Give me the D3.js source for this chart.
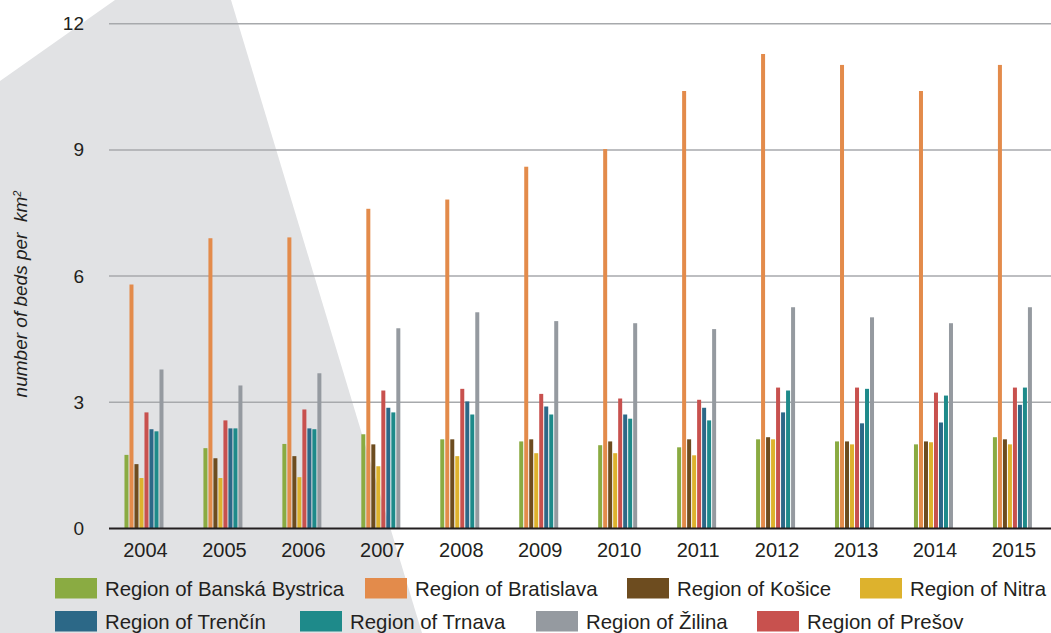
<!DOCTYPE html>
<html>
<head>
<meta charset="utf-8">
<script src="https://cdn.jsdelivr.net/npm/d3@7/dist/d3.min.js"></script>
<style>
  html, body { margin: 0; padding: 0; background: #ffffff; }
  svg { display: block; font-family: "Liberation Sans", Arial, Helvetica, sans-serif; }
</style>
</head>
<body>
<svg id="chart" width="1051" height="633"></svg>
<script>
// Tourist accommodation density by region, beds per km²
const years = ["2004", "2005", "2006", "2007", "2008", "2009", "2010", "2011", "2012", "2013", "2014", "2015"];
const yTicks = [0, 3, 6, 9, 12];

const banskaBystrica = [1.75, 1.91, 2.01, 2.24, 2.12, 2.07, 1.98, 1.93, 2.12, 2.07, 2.00, 2.17];
const bratislava     = [5.80, 6.90, 6.92, 7.60, 7.82, 8.60, 9.02, 10.40, 11.28, 11.02, 10.40, 11.02];
const kosice         = [1.53, 1.67, 1.72, 2.00, 2.12, 2.12, 2.07, 2.12, 2.17, 2.07, 2.07, 2.12];
const nitra          = [1.20, 1.20, 1.22, 1.48, 1.72, 1.79, 1.79, 1.74, 2.12, 2.00, 2.05, 2.00];
const presov         = [2.76, 2.57, 2.83, 3.28, 3.32, 3.20, 3.09, 3.06, 3.35, 3.35, 3.23, 3.35];
const trencin        = [2.36, 2.38, 2.38, 2.87, 3.02, 2.90, 2.71, 2.87, 2.76, 2.50, 2.52, 2.94];
const trnava         = [2.31, 2.38, 2.36, 2.76, 2.71, 2.71, 2.61, 2.57, 3.28, 3.32, 3.16, 3.35];
const zilina         = [3.78, 3.40, 3.69, 4.76, 5.14, 4.93, 4.88, 4.74, 5.26, 5.02, 4.88, 5.26];

// Bar order inside each year group
const series = [
  { name: "Region of Banská Bystrica", values: banskaBystrica, color: "#8aab42" },
  { name: "Region of Bratislava",      values: bratislava,     color: "#e38b4b" },
  { name: "Region of Košice",          values: kosice,         color: "#6d4c1f" },
  { name: "Region of Nitra",           values: nitra,          color: "#ddb22d" },
  { name: "Region of Prešov",          values: presov,         color: "#c8514e" },
  { name: "Region of Trenčín",         values: trencin,        color: "#2c6887" },
  { name: "Region of Trnava",          values: trnava,         color: "#1e8a8a" },
  { name: "Region of Žilina",          values: zilina,         color: "#959aa0" }
];

// Legend order (two rows of four)
const legendOrder = [
  "Region of Banská Bystrica", "Region of Bratislava", "Region of Košice", "Region of Nitra",
  "Region of Trenčín", "Region of Trnava", "Region of Žilina", "Region of Prešov"
];
const legendSlots = [
  [55, 578], [365, 578], [627, 578], [860, 578],
  [55, 611], [300, 611], [536, 611], [757, 611]
];

const svg = d3.select("#chart");
const W = 1051, H = 633;
const textColor = "#231f20";

svg.append("rect").attr("width", W).attr("height", H).attr("fill", "#ffffff");

// Decorative grey backdrop shape
svg.append("polygon")
  .attr("points", [[0, 81], [115, 0], [231, 0], [422, 633], [0, 633]].map(p => p.join(",")).join(" "))
  .attr("fill", "#e1e2e4");

const plotLeft = 109, plotRight = 1051;

const x0 = d3.scaleBand().domain(years).range([105, 1052.4]).padding(0);
const x1 = d3.scaleBand().domain(series.map(s => s.name)).range([0, 40]).padding(0);
const y = d3.scaleLinear().domain([0, 12]).range([528.5, 23.7]);

// Horizontal gridlines
svg.append("g")
  .selectAll("line")
  .data(yTicks.filter(t => t > 0))
  .join("line")
  .attr("x1", plotLeft).attr("x2", plotRight)
  .attr("y1", d => y(d)).attr("y2", d => y(d))
  .attr("stroke", "#a7a9ac")
  .attr("stroke-width", 1.5);

// Y axis labels
const yAxis = svg.append("g")
  .attr("transform", `translate(${plotLeft},0)`)
  .call(d3.axisLeft(y).tickValues(yTicks).tickSize(0).tickPadding(25).tickFormat(d3.format("d")));
yAxis.select(".domain").remove();
yAxis.selectAll("text")
  .attr("fill", textColor)
  .style("font-size", "19px");

// Bars
const groups = svg.append("g")
  .selectAll("g")
  .data(years)
  .join("g")
  .attr("transform", d => `translate(${x0(d) + x0.bandwidth() / 2 - 20},0)`);

groups.selectAll("rect")
  .data((yr, i) => series.map(s => ({ name: s.name, color: s.color, value: s.values[i] })))
  .join("rect")
  .attr("x", d => x1(d.name))
  .attr("width", x1.bandwidth() - 1)
  .attr("y", d => y(d.value))
  .attr("height", d => y(0) - y(d.value))
  .attr("fill", d => d.color);

// X axis baseline and year labels
svg.append("line")
  .attr("x1", plotLeft).attr("x2", plotRight)
  .attr("y1", y(0)).attr("y2", y(0))
  .attr("stroke", textColor)
  .attr("stroke-width", 2.2);

const xAxis = svg.append("g")
  .attr("transform", `translate(1,${y(0)})`)
  .call(d3.axisBottom(x0).tickSize(0).tickPadding(14.5));
xAxis.select(".domain").remove();
xAxis.selectAll("text")
  .attr("fill", textColor)
  .style("font-size", "20px");

// Y axis title with superscript unit
const title = svg.append("text")
  .attr("transform", "translate(27,294) rotate(-90)")
  .attr("text-anchor", "middle")
  .attr("fill", textColor)
  .style("font-size", "19px")
  .style("font-style", "italic")
  .style("white-space", "pre");
title.append("tspan").text("number of beds per  km");
title.append("tspan")
  .attr("dy", "-0.55em")
  .style("font-size", "11px")
  .text("2");

// Legend
const byName = new Map(series.map(s => [s.name, s]));
const legend = svg.append("g")
  .selectAll("g")
  .data(legendOrder)
  .join("g")
  .attr("transform", (d, i) => `translate(${legendSlots[i][0]},${legendSlots[i][1]})`);

legend.append("rect")
  .attr("width", 42).attr("height", 20.5)
  .attr("fill", d => byName.get(d).color);

legend.append("text")
  .attr("x", 50).attr("y", 18)
  .attr("fill", textColor)
  .style("font-size", "20.4px")
  .text(d => d);
</script>
</body>
</html>
